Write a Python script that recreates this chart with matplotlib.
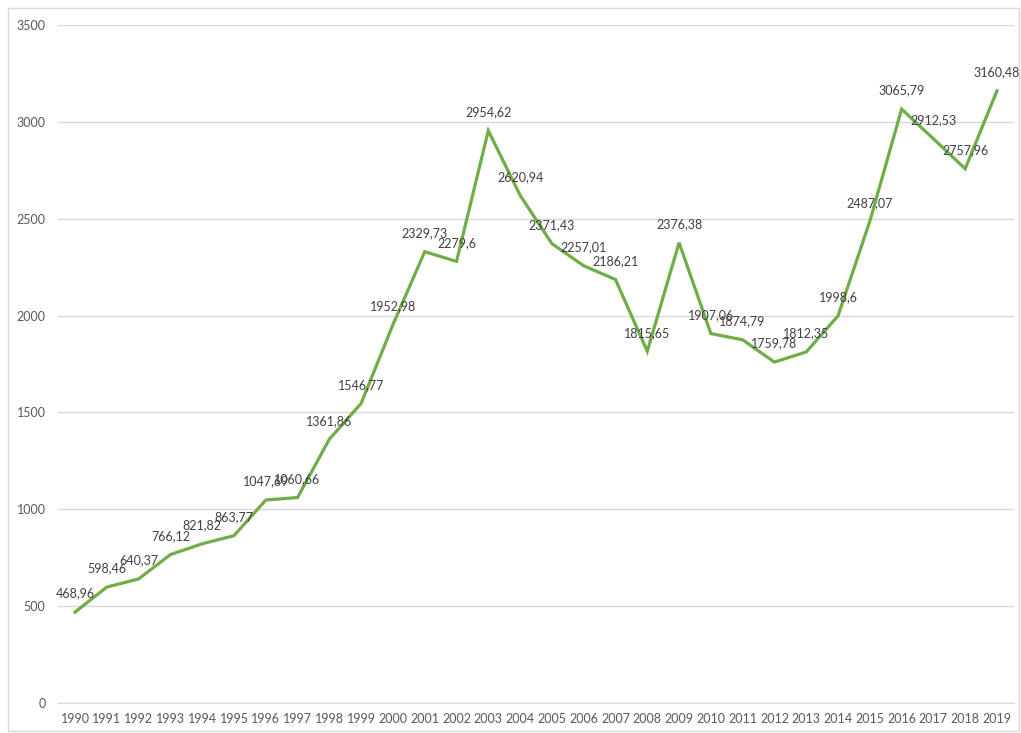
import matplotlib
matplotlib.use("Agg")
import matplotlib.pyplot as plt
from matplotlib.patches import Rectangle

years = [str(y) for y in range(1990, 2020)]
values = [468.96, 598.46, 640.37, 766.12, 821.82, 863.77, 1047.69, 1060.66,
          1361.86, 1546.77, 1952.98, 2329.73, 2279.6, 2954.62, 2620.94,
          2371.43, 2257.01, 2186.21, 1815.65, 2376.38, 1907.06, 1874.79,
          1759.78, 1812.35, 1998.6, 2487.07, 3065.79, 2912.53, 2757.96,
          3160.48]
yticks = [0, 500, 1000, 1500, 2000, 2500, 3000, 3500]

plt.rcParams['font.family'] = ['Lato', 'DejaVu Sans']

W, H = 1021, 733
fig = plt.figure(figsize=(W / 100, H / 100), dpi=100)
fig.patch.set_facecolor('white')
ax = fig.add_axes([58 / W, 1 - 703 / H, (1014 - 58) / W, (703 - 25) / H])

x = list(range(len(years)))
ax.plot(x, values, color='#70AD47', linewidth=2.3, solid_joinstyle='miter', zorder=3)

def fmt(v):
    s = ('%.2f' % v).rstrip('0').rstrip('.')
    return s.replace('.', ',')

for xi, v in zip(x, values):
    ax.annotate(fmt(v), (xi, v), xytext=(0, 9), textcoords='offset points',
                ha='center', va='bottom', fontsize=9, color='#404040', zorder=4)

ax.set_xlim(-0.535, len(years) - 1 + 0.535)
ax.set_ylim(0, 3500)
ax.set_yticks(yticks)
ax.set_yticklabels([str(t) for t in yticks])
ax.set_xticks(x)
ax.set_xticklabels(years)
ax.yaxis.grid(True, color='#D9D9D9', linewidth=1)
ax.set_axisbelow(True)
for s in ax.spines.values():
    s.set_visible(False)
ax.spines['bottom'].set_visible(True)
ax.spines['bottom'].set_color('#D9D9D9')
ax.tick_params(axis='both', length=0, labelsize=9, colors='#595959')
ax.tick_params(axis='y', pad=9)
ax.tick_params(axis='x', pad=7)

fig.patches.append(Rectangle((8 / W, 2 / H), (W - 10) / W, (H - 10) / H,
                             transform=fig.transFigure, fill=False,
                             edgecolor='#D9D9D9', linewidth=1))

fig.savefig('out.png', dpi=100, facecolor='white')
